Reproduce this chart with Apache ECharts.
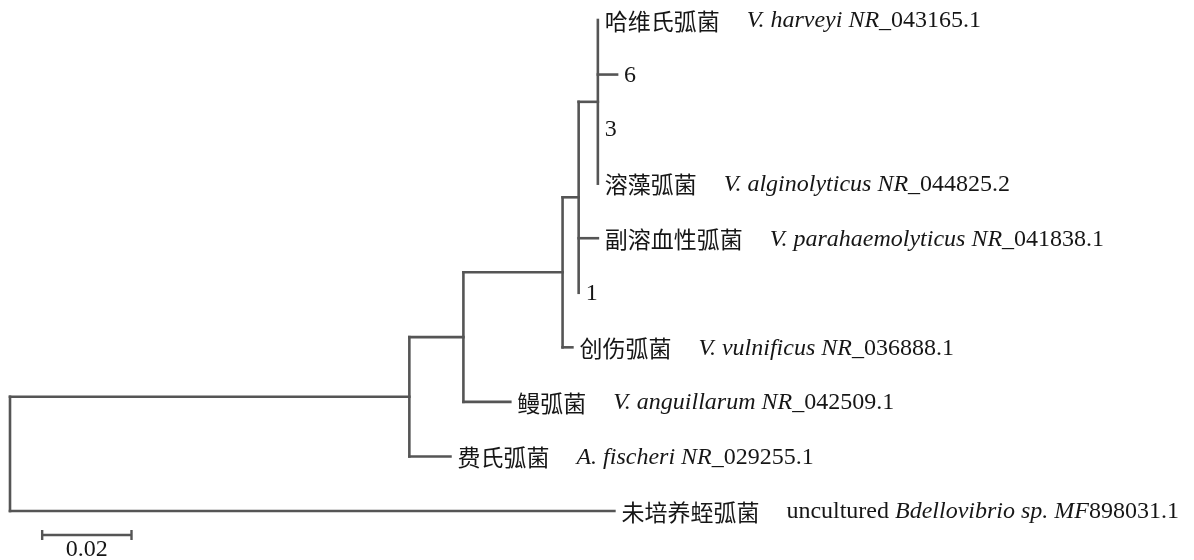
<!DOCTYPE html>
<html>
<head>
<meta charset="utf-8">
<title>Vibrio 16S rRNA phylogenetic tree</title>
<script src="https://cdn.jsdelivr.net/npm/echarts@6/dist/echarts.min.js"></script>
<style>
  html, body { margin: 0; padding: 0; background: #ffffff; }
  #chart { width: 1194px; height: 560px; }
</style>
</head>
<body>
<div id="chart"></div>
<script>
// Leaves, top to bottom
const TAXON_NAME = ['哈维氏弧菌', '6', '3', '溶藻弧菌', '副溶血性弧菌', '1', '创伤弧菌', '鳗弧菌', '费氏弧菌', '未培养蛭弧菌'];
const TAXON_PREFIX = ['', '', '', '', '', '', '', '', '', 'uncultured '];
const TAXON_ITALIC = ['V. harveyi NR', '', '', 'V. alginolyticus NR', 'V. parahaemolyticus NR', '', 'V. vulnificus NR', 'V. anguillarum NR', 'A. fischeri NR', 'Bdellovibrio sp. MF'];
const TAXON_ACCESSION = ['_043165.1', '', '', '_044825.2', '_041838.1', '', '_036888.1', '_042509.1', '_029255.1', '898031.1'];
const LEAF_PARENT = ['n5', 'n5', 'n5', 'n5', 'n4', 'n4', 'n3', 'n2', 'n1', 'root'];
const LEAF_LENGTH = [0, 0.0043, 0, 0, 0.0043, 0, 0.0022, 0.0105, 0.0092, 0.1353];

// Internal nodes, parents listed before children
const NODE_ID = ['root', 'n1', 'n2', 'n3', 'n4', 'n5'];
const NODE_PARENT = [null, 'root', 'n1', 'n2', 'n3', 'n4'];
const NODE_LENGTH = [0, 0.0894, 0.0121, 0.0222, 0.0036, 0.0043];

// Scale bar (substitutions per site)
const SCALE_LENGTH = 0.02;
const SCALE_LABEL = '0.02';

// ---- tree geometry in data units (x = distance from root, y = leaf row) ----
const nodeDepth = {};
NODE_ID.forEach((id, i) => {
  nodeDepth[id] = NODE_PARENT[i] ? nodeDepth[NODE_PARENT[i]] + NODE_LENGTH[i] : 0;
});
const leafX = LEAF_PARENT.map((p, i) => nodeDepth[p] + LEAF_LENGTH[i]);
const leafY = TAXON_NAME.map((_, i) => i);

const nodeSpan = {};
NODE_ID.forEach(id => { nodeSpan[id] = [Infinity, -Infinity]; });
const nodeY = {};
function extend(id, y) {
  nodeSpan[id][0] = Math.min(nodeSpan[id][0], y);
  nodeSpan[id][1] = Math.max(nodeSpan[id][1], y);
}
LEAF_PARENT.forEach((p, i) => extend(p, leafY[i]));
for (let i = NODE_ID.length - 1; i >= 0; i--) {
  const id = NODE_ID[i];
  nodeY[id] = (nodeSpan[id][0] + nodeSpan[id][1]) / 2;
  if (NODE_PARENT[i]) extend(NODE_PARENT[i], nodeY[id]);
}

const branches = [];
LEAF_PARENT.forEach((p, i) => {
  if (LEAF_LENGTH[i] > 0) branches.push([nodeDepth[p], leafY[i], leafX[i], leafY[i]]);
});
NODE_ID.forEach((id, i) => {
  const p = NODE_PARENT[i];
  if (p && NODE_LENGTH[i] > 0) branches.push([nodeDepth[p], nodeY[id], nodeDepth[id], nodeY[id]]);
  branches.push([nodeDepth[id], nodeSpan[id][0], nodeDepth[id], nodeSpan[id][1]]);
});

function labelText(i) {
  if (!TAXON_ITALIC[i]) return '{num|' + TAXON_NAME[i] + '}';
  return '{cn|' + TAXON_NAME[i] + '}{gap| }' +
    (TAXON_PREFIX[i] ? '{rm|' + TAXON_PREFIX[i] + '}' : '') +
    '{it|' + TAXON_ITALIC[i] + '}{rm|' + TAXON_ACCESSION[i] + '}';
}
const labels = leafX.map((x, i) => [x, leafY[i], i]);

const LINE = '#555555';
const INK = '#161616';
const SERIF = '"Liberation Serif", "Times New Roman", serif';
const CJK = '"Noto Sans CJK SC", sans-serif';
const FS_CJK = 23;
const FS_LAT = 24;

const chart = echarts.init(document.getElementById('chart'), null, { renderer: 'canvas' });
chart.setOption({
  animation: false,
  backgroundColor: '#ffffff',
  grid: { left: 10, top: 20, width: 893.4, height: 491 },
  xAxis: { type: 'value', min: 0, max: 0.2, show: false },
  yAxis: { type: 'value', min: 0, max: 9, inverse: true, show: false },
  series: [
    {
      type: 'custom',
      silent: true,
      data: branches,
      renderItem: (params, api) => {
        const a = api.coord([api.value(0), api.value(1)]);
        const b = api.coord([api.value(2), api.value(3)]);
        return {
          type: 'line',
          shape: { x1: a[0], y1: a[1], x2: b[0], y2: b[1] },
          style: { stroke: LINE, lineWidth: 2.6, lineCap: 'square' }
        };
      }
    },
    {
      type: 'custom',
      silent: true,
      data: labels,
      renderItem: (params, api) => {
        const p = api.coord([api.value(0), api.value(1)]);
        const i = api.value(2);
        return {
          type: 'text',
          x: p[0] + 7,
          y: p[1] + 1,
          style: {
            text: labelText(i),
            verticalAlign: 'middle',
            align: 'left',
            fill: INK,
            rich: {
              cn: { fontFamily: CJK, fontSize: FS_CJK, lineHeight: 28, fill: INK, verticalAlign: 'middle' },
              gap: { width: 27, fontSize: FS_LAT, lineHeight: 28 },
              it: { fontFamily: SERIF, fontStyle: 'italic', fontSize: FS_LAT, lineHeight: 28, fill: INK, verticalAlign: 'middle' },
              rm: { fontFamily: SERIF, fontSize: FS_LAT, lineHeight: 28, fill: INK, verticalAlign: 'middle' },
              num: { fontFamily: SERIF, fontSize: FS_LAT, lineHeight: 28, fill: INK, verticalAlign: 'middle' }
            }
          }
        };
      }
    },
    {
      type: 'custom',
      silent: true,
      data: [[0.0072, 9.44, SCALE_LENGTH]],
      renderItem: (params, api) => {
        const a = api.coord([api.value(0), api.value(1)]);
        const b = api.coord([api.value(0) + api.value(2), api.value(1)]);
        const st = { stroke: LINE, lineWidth: 2.4 };
        return {
          type: 'group',
          children: [
            { type: 'line', shape: { x1: a[0], y1: a[1], x2: b[0], y2: b[1] }, style: st },
            { type: 'line', shape: { x1: a[0], y1: a[1] - 5, x2: a[0], y2: a[1] + 5 }, style: st },
            { type: 'line', shape: { x1: b[0], y1: b[1] - 5, x2: b[0], y2: b[1] + 5 }, style: st },
            {
              type: 'text',
              x: (a[0] + b[0]) / 2,
              y: a[1] + 15,
              style: { text: SCALE_LABEL, align: 'center', verticalAlign: 'middle', font: FS_LAT + 'px ' + SERIF, fill: INK }
            }
          ]
        };
      }
    }
  ]
});
</script>
</body>
</html>
